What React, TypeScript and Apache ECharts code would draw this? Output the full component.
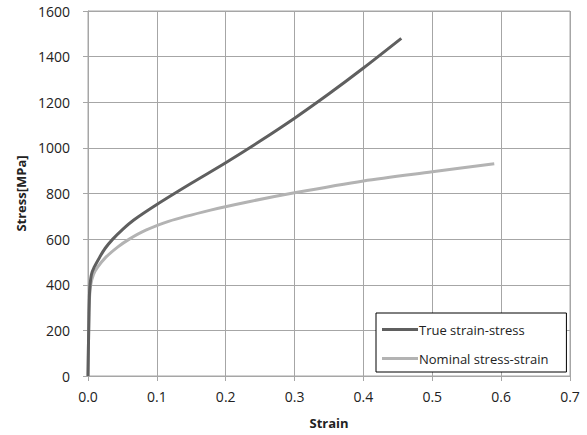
import React, { useEffect, useRef } from "react";
import * as echarts from "echarts";

const trueStrain = [0, 0.001, 0.002, 0.003, 0.005, 0.009, 0.017, 0.025, 0.036, 0.05, 0.066, 0.1, 0.15, 0.2, 0.25, 0.3, 0.35, 0.4, 0.455];
const trueStress = [0, 200, 350, 400, 445, 477, 521, 560, 600, 642, 683, 752, 845, 935, 1030, 1130, 1237, 1350, 1480];

const nomStrain = [0, 0.001, 0.002, 0.004, 0.008, 0.014, 0.026, 0.043, 0.06, 0.084, 0.117, 0.178, 0.23, 0.3, 0.4, 0.5, 0.59];
const nomStress = [0, 200, 330, 400, 445, 477, 521, 565, 600, 639, 678, 727, 762, 803, 855, 895, 930];

const seriesNames = ["True strain-stress", "Nominal stress-strain"];
const xTicks = { min: 0, max: 0.7, interval: 0.1 };
const yTicks = { min: 0, max: 1600, interval: 200 };

export default function App() {
  const ref = useRef<HTMLDivElement>(null);
  useEffect(() => {
    if (!ref.current) return;
    const chart = echarts.init(ref.current, null, { renderer: "svg" });
    const font = "'Open Sans', 'DejaVu Sans', sans-serif";
    const gridColor = "#a6a6a6";
    chart.setOption({
      animation: false,
      backgroundColor: "#ffffff",
      grid: { left: 88, right: 17, top: 11, bottom: 59, show: true, borderColor: gridColor, borderWidth: 1 },
      legend: {
        orient: "vertical",
        left: 376,
        top: 313,
        itemWidth: 36,
        itemHeight: 3,
        itemGap: 16,
        icon: "rect",
        padding: [10, 18, 7, 6],
        borderColor: "#000",
        borderWidth: 1,
        backgroundColor: "#fff",
        textStyle: { fontFamily: font, fontSize: 13, color: "#222", padding: [0, 0, 0, -4] },
        data: seriesNames,
      },
      xAxis: {
        type: "value",
        min: xTicks.min,
        max: xTicks.max,
        interval: xTicks.interval,
        name: "Strain",
        nameLocation: "middle",
        nameGap: 40,
        nameTextStyle: { fontFamily: font, fontSize: 13, fontWeight: "bold", color: "#222" },
        axisLine: { show: true, lineStyle: { color: gridColor } },
        axisTick: { show: true, length: 5, lineStyle: { color: gridColor } },
        axisLabel: { fontFamily: font, fontSize: 14, color: "#222", margin: 13, formatter: (v: number) => v.toFixed(1) },
        splitLine: { show: true, lineStyle: { color: gridColor, width: 1 } },
      },
      yAxis: {
        type: "value",
        min: yTicks.min,
        max: yTicks.max,
        interval: yTicks.interval,
        name: "Stress[MPa]",
        nameLocation: "middle",
        nameGap: 58,
        nameTextStyle: { fontFamily: font, fontSize: 13, fontWeight: "bold", color: "#222" },
        axisLine: { show: true, lineStyle: { color: gridColor } },
        axisTick: { show: true, length: 5, lineStyle: { color: gridColor } },
        axisLabel: { fontFamily: font, fontSize: 14, color: "#222", margin: 18, formatter: (v: number) => String(v) },
        splitLine: { show: true, lineStyle: { color: gridColor, width: 1 } },
      },
      series: [
        {
          name: seriesNames[0],
          type: "line",
          smooth: 0.3,
          showSymbol: false,
          data: trueStrain.map((x, i) => [x, trueStress[i]]),
          lineStyle: { color: "#5f5f5f", width: 3 },
          itemStyle: { color: "#5f5f5f" },
          z: 3,
        },
        {
          name: seriesNames[1],
          type: "line",
          smooth: 0.3,
          showSymbol: false,
          data: nomStrain.map((x, i) => [x, nomStress[i]]),
          lineStyle: { color: "#b3b3b3", width: 3 },
          itemStyle: { color: "#b3b3b3" },
          z: 2,
        },
      ],
    });
    return () => chart.dispose();
  }, []);
  return <div ref={ref} style={{ width: 587, height: 435, position: "absolute", left: 0, top: 0 }} />;
}
